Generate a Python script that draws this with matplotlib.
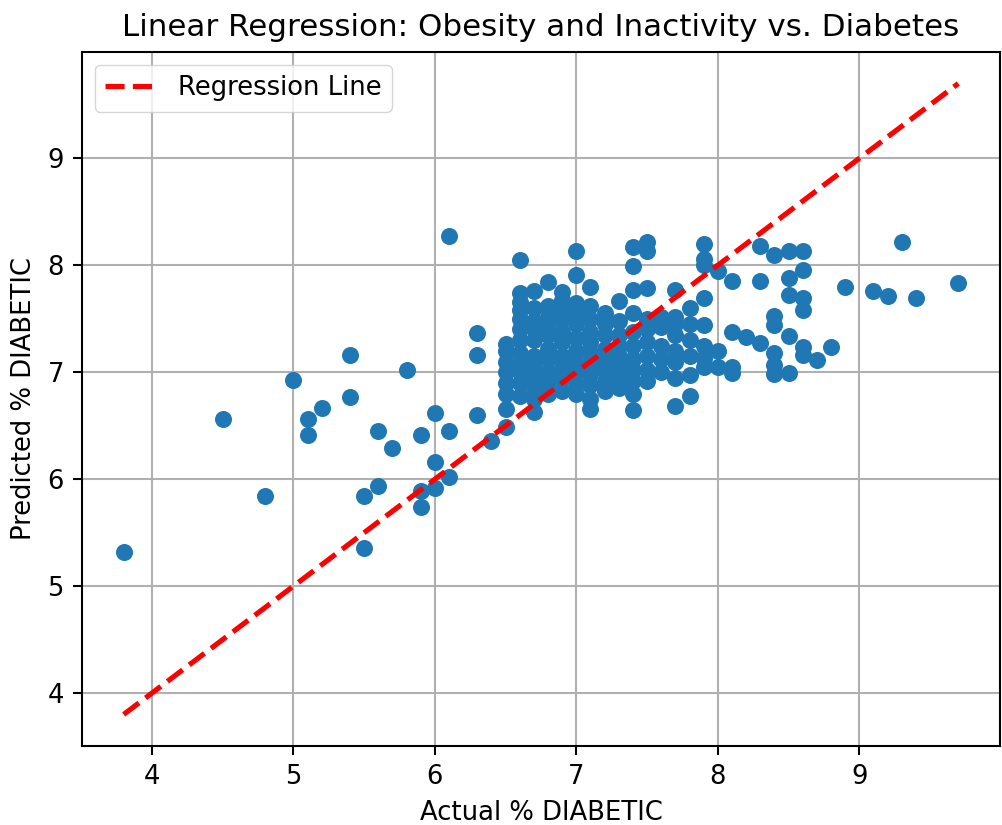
import matplotlib
matplotlib.use("Agg")
import matplotlib.pyplot as plt
import numpy as np

# ---- data ----
sparse_x = [3.8, 4.5, 4.8, 5.0, 5.1, 5.1, 5.2, 5.4, 5.4, 5.5, 5.5, 5.6, 5.6, 5.7, 5.8,
            5.9, 5.9, 5.9, 6.0, 6.0, 6.0, 6.1, 6.1, 6.1, 6.3, 6.3, 6.3, 6.4]
sparse_y = [5.32, 6.56, 5.84, 6.93, 6.56, 6.41, 6.67, 7.16, 6.77, 5.84, 5.36, 6.45, 5.94, 6.29, 7.02,
            6.41, 5.89, 5.74, 6.62, 6.16, 5.92, 6.45, 6.02, 8.27, 7.37, 7.16, 6.60, 6.36]

cluster = {
    6.5: [6.49, 6.66, 6.80, 6.90, 7.00, 7.10, 7.20, 7.26],
    6.6: [6.78, 6.90, 7.00, 7.08, 7.18, 7.30, 7.40, 7.50, 7.58, 7.66, 7.74, 8.05],
    6.7: [6.63, 6.75, 6.85, 6.95, 7.05, 7.15, 7.30, 7.40, 7.48, 7.60, 7.76],
    6.8: [6.80, 6.90, 7.00, 7.12, 7.22, 7.35, 7.45, 7.52, 7.62, 7.84],
    6.9: [6.82, 6.95, 7.05, 7.15, 7.28, 7.38, 7.50, 7.58, 7.68, 7.75],
    7.0: [6.80, 6.90, 7.00, 7.10, 7.20, 7.32, 7.45, 7.55, 7.65, 7.91, 8.13],
    7.1: [6.66, 6.75, 6.88, 6.98, 7.08, 7.18, 7.28, 7.38, 7.50, 7.62, 7.80],
    7.2: [6.82, 6.92, 7.02, 7.12, 7.22, 7.35, 7.45, 7.55],
    7.3: [6.85, 6.95, 7.05, 7.15, 7.25, 7.35, 7.48, 7.67],
    7.4: [6.65, 6.80, 6.92, 7.02, 7.12, 7.25, 7.38, 7.55, 7.77, 7.99, 8.17],
    7.5: [6.92, 7.02, 7.15, 7.28, 7.40, 7.50, 7.79, 8.13, 8.22],
    7.6: [7.00, 7.12, 7.25, 7.42, 7.52],
    7.7: [6.68, 6.95, 7.10, 7.20, 7.35, 7.45, 7.52, 7.77],
    7.8: [6.78, 6.97, 7.15, 7.30, 7.45, 7.60],
    7.9: [7.05, 7.13, 7.25, 7.44, 7.69, 8.00, 8.06, 8.20],
    8.0: [7.05, 7.20, 7.95],
    8.1: [6.99, 7.05, 7.38, 7.85],
    8.2: [7.33],
    8.3: [7.27, 7.85, 8.18],
    8.4: [6.98, 7.07, 7.18, 7.44, 7.53, 8.10],
    8.5: [6.99, 7.34, 7.72, 7.88, 8.13],
    8.6: [7.16, 7.24, 7.58, 7.69, 7.96, 8.13],
    8.7: [7.11],
    8.8: [7.24],
    8.9: [7.80],
    9.1: [7.76],
    9.2: [7.71],
    9.3: [8.22],
    9.4: [7.69],
    9.7: [7.83],
}

actual = list(sparse_x)
predicted = list(sparse_y)
for xv, ys in cluster.items():
    actual += [xv] * len(ys)
    predicted += ys
actual = np.array(actual)
predicted = np.array(predicted)

title = "Linear Regression: Obesity and Inactivity vs. Diabetes"
xlabel = "Actual % DIABETIC"
ylabel = "Predicted % DIABETIC"
legend_label = "Regression Line"

# ---- styling ----
k = 1.86
plt.rcParams.update({
    "font.size": 10 * k,
    "axes.linewidth": 0.8 * k,
    "xtick.major.size": 3.5 * k, "ytick.major.size": 3.5 * k,
    "xtick.major.width": 0.8 * k, "ytick.major.width": 0.8 * k,
    "xtick.major.pad": 3.5 * k, "ytick.major.pad": 3.5 * k,
    "grid.linewidth": 0.8 * k,
    "axes.titlesize": 12 * k,
    "axes.titlepad": 6 * k,
    "axes.labelpad": 4 * k,
    "legend.fontsize": 10 * k,
})

fig = plt.figure(figsize=(10.02, 8.25), dpi=100)
ax = fig.add_axes([0.0818, 0.0958, 0.9162, 0.8412])

ax.scatter(actual, predicted, s=150, color="#1f77b4", linewidths=0, zorder=2)
lo, hi = actual.min(), actual.max()
ax.plot([lo, hi], [lo, hi], "--", color="red", lw=2 * k, label=legend_label, zorder=3)

ax.set_title(title)
ax.set_xlabel(xlabel)
ax.set_ylabel(ylabel)
ax.grid(True)
ax.set_axisbelow(True)
ax.legend(loc="upper left")

fig.savefig("out.png", dpi=100)
